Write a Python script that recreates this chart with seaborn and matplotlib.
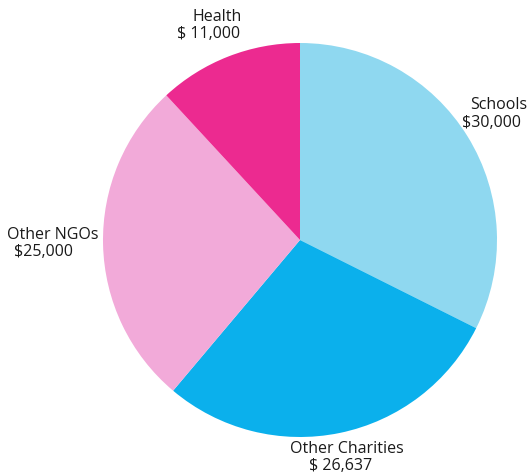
import matplotlib
matplotlib.use("Agg")
import matplotlib.pyplot as plt
import seaborn as sns

categories = ["Schools", "Other Charities", "Other NGOs", "Health"]
values = [30000, 26637, 25000, 11000]
value_labels = ["$30,000", "$ 26,637", "$25,000", "$ 11,000"]
colors = ["#8FD8F0", "#0BB0EC", "#F2AAD9", "#EC2A90"]

sns.set_theme(style="white")
plt.rcParams["font.family"] = ["Open Sans", "DejaVu Sans"]

W, H = 530, 475
fig = plt.figure(figsize=(W / 100, H / 100), dpi=100)
ax = fig.add_axes([0, 0, 1, 1])

ax.pie(values, colors=sns.color_palette(colors), startangle=90, counterclock=False,
       center=(300, H - 240), radius=197, wedgeprops=dict(linewidth=0))
ax.set_xlim(0, W)
ax.set_ylim(0, H)
ax.set_aspect("equal")
ax.axis("off")

# label line positions (pixel coords, left x, center y)
pos = {
    "Schools": [(470, 105), (462, 123)],
    "Other Charities": [(290, 449), (309, 466)],
    "Other NGOs": [(7, 235), (14, 252)],
    "Health": [(193, 17), (177, 34)],
}
for cat, vl in zip(categories, value_labels):
    (x1, y1), (x2, y2) = pos[cat]
    ax.text(x1, H - y1, cat, ha="left", va="center", fontsize=11.5, color="#1a1a1a")
    ax.text(x2, H - y2, vl, ha="left", va="center", fontsize=11.5, color="#1a1a1a")

fig.savefig("out.png", dpi=100)
